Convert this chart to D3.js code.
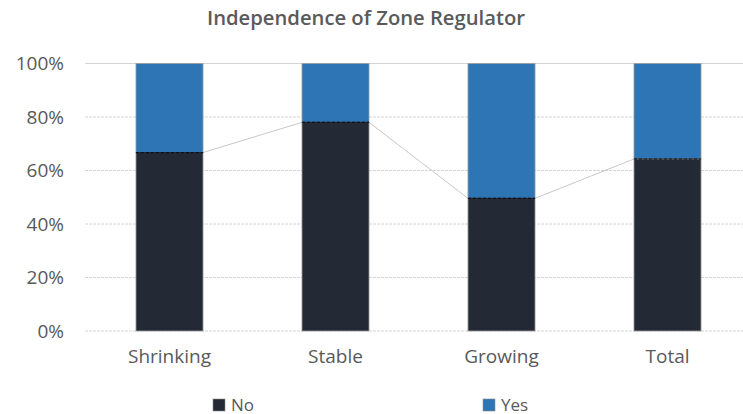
<!DOCTYPE html>
<html><head><meta charset="utf-8">
<script src="https://cdn.jsdelivr.net/npm/d3@7"></script>
<style>body{margin:0;background:#fff}svg{display:block}text{font-family:"Open Sans",sans-serif}</style>
</head><body>
<svg id="c" width="743" height="414"></svg>
<script>
const categories = ["Shrinking", "Stable", "Growing", "Total"];
const noValues = [66.7, 78.0, 49.6, 64.3];
const yesValues = [33.3, 22.0, 50.4, 35.7];
const yTicks = [0, 20, 40, 60, 80, 100];
const seriesNames = ["No", "Yes"];
const colors = {No: "#232a35", Yes: "#2e75b6"};

const svg = d3.select("#c");
const x = d3.scaleBand().domain(categories).range([86.5, 750.5]).paddingInner(0.596).paddingOuter(0.298);
const y = d3.scaleLinear().domain([0, 100]).range([331, 63.5]);

svg.append("text").attr("x", 366).attr("y", 25).attr("text-anchor", "middle")
  .attr("font-size", 19).attr("font-weight", 600).attr("fill", "#5a5a5a")
  .attr("textLength", 318).attr("lengthAdjust", "spacingAndGlyphs")
  .text("Independence of Zone Regulator");

// gridlines
svg.append("g").selectAll("line").data(yTicks).join("line")
  .attr("x1", 85).attr("x2", 743).attr("y1", d => y(d)).attr("y2", d => y(d))
  .attr("stroke", "#d4d4d4").attr("stroke-width", 1).attr("stroke-dasharray", d => d === 100 ? null : "3,1");

// y axis labels
const yAxis = d3.axisLeft(y).tickValues(yTicks).tickFormat(d => d + "%").tickSize(0).tickPadding(0);
const ga = svg.append("g").attr("transform", "translate(64,0)").call(yAxis);
ga.select(".domain").remove();
ga.selectAll("text").attr("font-size", 19).attr("fill", "#595959").attr("font-family", "Open Sans, sans-serif");

const data = categories.map((c, i) => ({c, No: noValues[i], Yes: yesValues[i]}));
const stack = d3.stack().keys(seriesNames)(data);

// series lines
const bw = x.bandwidth();
for (let i = 0; i < categories.length - 1; i++) {
  svg.append("line")
    .attr("x1", x(categories[i]) + bw).attr("y1", y(noValues[i]))
    .attr("x2", x(categories[i + 1])).attr("y2", y(noValues[i + 1]))
    .attr("stroke", "#c8c8c8").attr("stroke-width", 1);
}

stack.forEach(s => {
  svg.append("g").selectAll("rect").data(s).join("rect")
    .attr("x", d => x(d.data.c)).attr("width", bw)
    .attr("y", d => y(d[1])).attr("height", d => y(d[0]) - y(d[1]))
    .attr("fill", colors[s.key]).attr("stroke", "#a0a0a0").attr("stroke-width", 0.8);
});
// dashed dark boundary at top of No segments
const bnd = svg.append("g");
bnd.selectAll("line.s").data(data).join("line").attr("class", "s")
  .attr("x1", d => x(d.c) + 0.5).attr("x2", d => x(d.c) + bw - 0.5)
  .attr("y1", d => y(d.No)).attr("y2", d => y(d.No))
  .attr("stroke", colors.No).attr("stroke-width", 1.2);
bnd.selectAll("line.d").data(data).join("line").attr("class", "d")
  .attr("x1", d => x(d.c)).attr("x2", d => x(d.c) + bw)
  .attr("y1", d => y(d.No)).attr("y2", d => y(d.No))
  .attr("stroke", "#0e1218").attr("stroke-width", 1.2).attr("stroke-dasharray", "3,2");

// category labels
const xAxis = d3.axisBottom(x).tickSize(0).tickPadding(0);
const gx = svg.append("g").attr("transform", "translate(0,349)").call(xAxis);
gx.select(".domain").remove();
gx.selectAll("text").attr("font-size", 19).attr("fill", "#595959").attr("font-family", "Open Sans, sans-serif");

// legend
const legendX = [213, 483];
seriesNames.forEach((n, i) => {
  svg.append("rect").attr("x", legendX[i]).attr("y", 399).attr("width", 12).attr("height", 12)
    .attr("fill", colors[n]).attr("stroke", "#8a8a8a").attr("stroke-width", 0.6);
  svg.append("text").attr("x", legendX[i] + 18).attr("y", 410.5).attr("font-size", 17)
    .attr("fill", "#595959").text(n);
});
</script>
</body></html>
